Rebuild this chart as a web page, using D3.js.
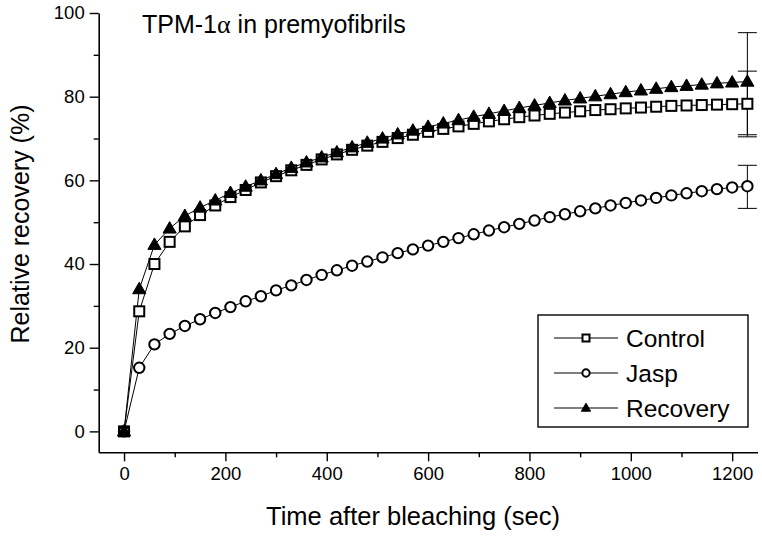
<!DOCTYPE html>
<html><head><meta charset="utf-8">
<script src="https://cdn.jsdelivr.net/npm/d3@7"></script>
<style>body{margin:0;background:#fff}svg{display:block}text{font-family:"Liberation Sans",Arial,sans-serif;fill:#000}</style>
</head><body><svg id="c" width="762" height="536"></svg>
<script>
const times = d3.range(0, 1231, 30);
const control = [0,28.7,40,45.3,49,51.7,54,56,57.7,59.5,61,62.4,63.7,65,66.2,67.3,68.3,69.2,70.1,70.9,71.6,72.3,72.9,73.5,74.1,74.6,75.1,75.5,75.9,76.2,76.5,76.8,77,77.2,77.4,77.6,77.8,77.9,78,78.1,78.2,78.3];
const jasp = [0,15.2,20.8,23.3,25.2,26.8,28.3,29.7,31.1,32.3,33.7,34.9,36.2,37.4,38.5,39.6,40.6,41.6,42.6,43.5,44.4,45.3,46.2,47.1,48,48.8,49.6,50.4,51.2,51.9,52.6,53.3,54,54.6,55.2,55.8,56.4,56.9,57.4,57.9,58.3,58.6];
const recovery = [0,34,44.6,48.5,51.5,53.5,55.2,57,58.5,60,61.5,63,64.3,65.5,66.7,67.9,69,70,71,71.9,72.8,73.6,74.4,75.2,75.9,76.6,77.3,77.9,78.5,79.1,79.6,80.1,80.6,81.1,81.5,81.9,82.3,82.6,82.9,83.2,83.4,83.6];
const errTime = 1230;
const errors = [{name:"Control", mean:78.3, lo:70.4, hi:86.1},{name:"Jasp", mean:58.6, lo:53.3, hi:63.6},{name:"Recovery", mean:83.6, lo:70.9, hi:95.3}];
const xTicks = [0,200,400,600,800,1000,1200];
const xMinor = [100,300,500,700,900,1100];
const yTicks = [0,20,40,60,80,100];
const yMinor = [10,30,50,70,90];
const seriesNames = ["Control","Jasp","Recovery"];

const svg = d3.select("#c");
const x = d3.scaleLinear().domain([-50,1250]).range([98.7,757.5]);
const y = d3.scaleLinear().domain([-5,100]).range([452.3,13]);

// axes
svg.append("g").attr("transform","translate(0,452.3)")
  .call(d3.axisBottom(x).tickValues(xTicks).tickFormat(d3.format("d")).tickSize(9).tickPadding(6).tickSizeOuter(0));
svg.append("g").attr("transform","translate(0,452.3)")
  .call(d3.axisBottom(x).tickValues(xMinor).tickSize(5).tickFormat("").tickSizeOuter(0))
  .select(".domain").remove();
svg.append("g").attr("transform","translate(98.7,0)")
  .call(d3.axisLeft(y).tickValues(yTicks).tickFormat(d3.format("d")).tickSize(9).tickPadding(5).tickSizeOuter(0));
svg.append("g").attr("transform","translate(98.7,0)")
  .call(d3.axisLeft(y).tickValues(yMinor).tickSize(5).tickFormat("").tickSizeOuter(0))
  .select(".domain").remove();
svg.selectAll(".domain").attr("stroke-width",1.6);
svg.selectAll(".tick line").attr("stroke-width",1.4);
svg.selectAll(".tick text").attr("font-size",18.5).attr("font-family","Liberation Sans, Arial, sans-serif");

// axis titles
svg.append("text").attr("x",413).attr("y",525).attr("text-anchor","middle").attr("font-size",25.5).text("Time after bleaching (sec)");
svg.append("text").attr("transform","translate(29,224) rotate(-90)").attr("text-anchor","middle").attr("font-size",25).text("Relative recovery (%)");
const t = svg.append("text").attr("x",142).attr("y",33).attr("font-size",25);
t.append("tspan").text("TPM-1");
t.append("tspan").attr("font-family","Liberation Serif, serif").attr("font-size",26).text("α");
t.append("tspan").text(" in premyofibrils");

const sets = [control, jasp, recovery];
const line = d3.line().x((d,i)=>x(times[i])).y(d=>y(d));
// error bars
errors.forEach(e=>{
  const g = svg.append("g").attr("stroke","#000").attr("stroke-width",1);
  g.append("line").attr("x1",x(errTime)).attr("x2",x(errTime)).attr("y1",y(e.lo)).attr("y2",y(e.hi));
  [e.lo,e.hi].forEach(v=>g.append("line").attr("x1",x(errTime)-9.5).attr("x2",x(errTime)+9.5).attr("y1",y(v)).attr("y2",y(v)));
});
sets.forEach(s=>{
  svg.append("path").datum(s).attr("d",line).attr("fill","none").attr("stroke","#000").attr("stroke-width",1);
});
function marker(g, type, cx, cy, scale){
  if(type===0){ const h=5*scale; g.append("rect").attr("x",cx-h).attr("y",cy-h).attr("width",2*h).attr("height",2*h).attr("fill","#fff").attr("stroke","#000").attr("stroke-width",2); }
  else if(type===1){ g.append("circle").attr("cx",cx).attr("cy",cy).attr("r",5.2*scale).attr("fill","#fff").attr("stroke","#000").attr("stroke-width",2); }
  else { const w=6.6*scale, h=11.5*scale; g.append("path").attr("d",`M${cx},${cy-h*0.6}L${cx+w},${cy+h*0.4}L${cx-w},${cy+h*0.4}Z`).attr("fill","#000").attr("stroke","#000").attr("stroke-width",1); }
}
sets.forEach((s,k)=>{
  const g = svg.append("g");
  s.forEach((v,i)=>marker(g,k,x(times[i]),y(v),1));
});

// legend
svg.append("rect").attr("x",538).attr("y",315).attr("width",210).attr("height",112).attr("fill","#fff").attr("stroke","#000").attr("stroke-width",1.4);
const rows=[338,373,408];
seriesNames.forEach((n,k)=>{
  const g = svg.append("g");
  g.append("line").attr("x1",554).attr("x2",618).attr("y1",rows[k]).attr("y2",rows[k]).attr("stroke","#000").attr("stroke-width",1);
  marker(g,k,586,rows[k],0.7);
  g.append("text").attr("x",626).attr("y",rows[k]+9).attr("font-size",24.5).text(n);
});
</script></body></html>
